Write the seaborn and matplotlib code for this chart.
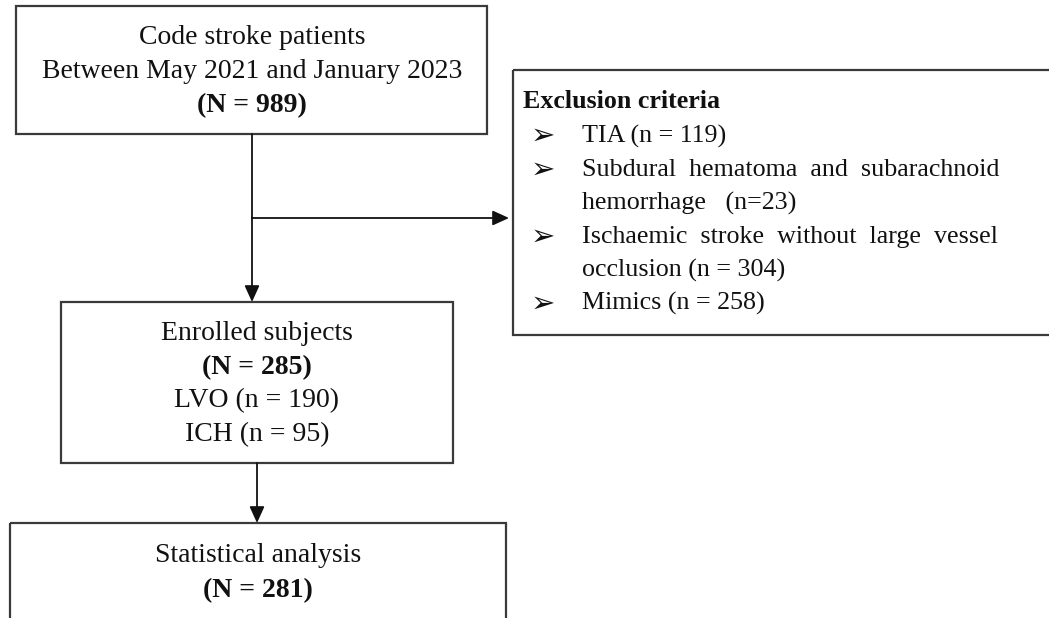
import matplotlib
matplotlib.use("Agg")
import matplotlib.pyplot as plt
import seaborn as sns
from matplotlib.patches import Rectangle

# flowchart content
top_lines = ["Code stroke patients", "Between May 2021 and January 2023", "(N = 989)"]
top_bold = [False, False, True]
enrolled_lines = ["Enrolled subjects", "(N = 285)", "LVO (n = 190)", "ICH (n = 95)"]
enrolled_bold = [False, True, False, False]
analysis_lines = ["Statistical analysis", "(N = 281)"]
analysis_bold = [False, True]
excl_title = "Exclusion criteria"
excl_items = [
    ["TIA (n = 119)"],
    ["Subdural hematoma and subarachnoid", "hemorrhage   (n=23)"],
    ["Ischaemic stroke without large vessel", "occlusion (n = 304)"],
    ["Mimics (n = 258)"],
]

sns.set_style("white")
plt.rcParams["font.family"] = ["Liberation Serif", "DejaVu Sans"]

fig = plt.figure(figsize=(10.49, 6.18), dpi=100)
ax = fig.add_axes([0, 0, 1, 1])
ax.set_xlim(0, 1049)
ax.set_ylim(618, 0)
ax.axis("off")

edge = "#3a3a3a"
ink = "#111111"
fs = 20
fs_excl = 18.7


def box(x0, y0, x1, y1):
    ax.add_patch(Rectangle((x0, y0), x1 - x0, y1 - y0, fill=False,
                           edgecolor=edge, linewidth=1.6))


def centered(lines, bold, xc, y0, step):
    for i, (t, b) in enumerate(zip(lines, bold)):
        ax.text(xc, y0 + i * step, t, ha="center", va="center", fontsize=fs,
                fontweight="bold" if b else "normal", color=ink)


def arrow(x0, y0, x1, y1):
    ax.annotate("", xy=(x1, y1), xytext=(x0, y0),
                arrowprops=dict(arrowstyle="-|>,head_length=0.55,head_width=0.25",
                                color=ink, lw=1.3, mutation_scale=18,
                                shrinkA=0, shrinkB=0))


# boxes
box(16, 6, 487, 134)
box(61, 302, 453, 463)
box(10, 523, 506, 640)
box(513, 70, 1070, 335)

centered(top_lines, top_bold, 252, 38, 34)
centered(enrolled_lines, enrolled_bold, 257, 334, 33.5)
centered(analysis_lines, analysis_bold, 258, 556, 34.5)

# connectors
ax.plot([252, 252], [134, 218], color=ink, lw=1.3)
arrow(252, 218, 252, 302)
arrow(252, 218, 509, 218)
arrow(257, 463, 257, 523)

# exclusion criteria
ax.text(523, 102, excl_title, ha="left", va="center", fontsize=fs_excl,
        fontweight="bold", color=ink)

fig.canvas.draw()
renderer = fig.canvas.get_renderer()


def width_of(s):
    t = ax.text(0, 0, s, fontsize=fs_excl)
    w = t.get_window_extent(renderer).width
    t.remove()
    return w


def justify(line, target):
    # pad the gaps with extra spaces so the line fills the target width
    words = line.split()
    space_w = width_of("a a") - width_of("aa")
    extra = (target - width_of(" ".join(words))) / space_w
    ngaps = len(words) - 1
    out, done = words[0], 0
    for i in range(1, len(words)):
        want = round(extra * i / ngaps)
        out += " " * (1 + want - done) + words[i]
        done = want
    return out


text_x = 582
y = 136
for item in excl_items:
    ax.text(531, y, "\u27a2", ha="left", va="center", fontsize=21,
            color=ink, family=["DejaVu Sans"])
    for j, line in enumerate(item):
        if len(item) > 1 and j == 0:
            line = justify(line, 998 - text_x)
        ax.text(text_x, y, line, ha="left", va="center",
                fontsize=fs_excl, color=ink)
        y += 33.5

fig.savefig("out.png", dpi=100, facecolor="white")
